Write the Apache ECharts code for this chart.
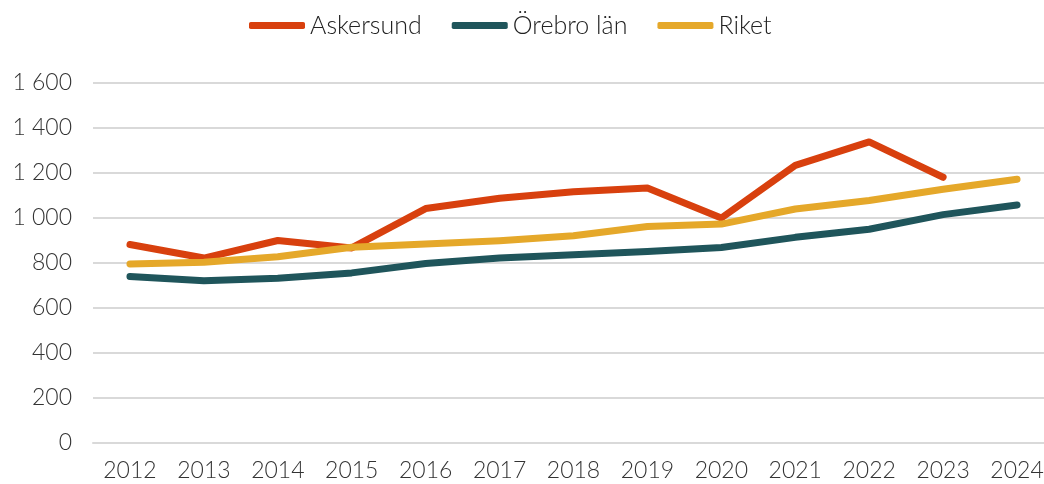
<!DOCTYPE html>
<html>
<head>
<meta charset="utf-8">
<script src="https://cdn.jsdelivr.net/npm/echarts@6/dist/echarts.min.js"></script>
<style>
	html, body { margin: 0; padding: 0; background: #fff; }
	#chart { width: 1044px; height: 484px; }
</style>
</head>
<body>
<div id="chart"></div>
<script>
const years = ['2012', '2013', '2014', '2015', '2016', '2017', '2018', '2019', '2020', '2021', '2022', '2023', '2024']
// Askersund has no 2024 value
const askersund = [882, 822, 900, 867, 1042, 1088, 1117, 1133, 1000, 1234, 1338, 1181, null]
const orebroLan = [740, 721, 732, 756, 798, 822, 837, 851, 869, 914, 950, 1015, 1058]
const riket = [796, 803, 828, 870, 884, 899, 921, 962, 973, 1040, 1078, 1128, 1172]

const COLORS = ['#D8400E', '#1F555B', '#E5A82A']
const FONT = 'Lato'

function fmt(v) {
	if (v < 1000) return String(v)
	return Math.floor(v / 1000) + ' ' + String(v % 1000).padStart(3, '0')
}

const chart = echarts.init(document.getElementById('chart'))

function lineSeries(name, data, color) {
	return {
		name,
		type: 'line',
		data,
		showSymbol: false,
		symbol: 'none',
		connectNulls: false,
		lineStyle: { color, width: 7, cap: 'round', join: 'round' },
		itemStyle: { color }
	}
}

chart.setOption({
	animation: false,
	color: COLORS,
	legend: {
		top: 8,
		left: 244,
		icon: 'roundRect',
		itemWidth: 56,
		itemHeight: 7,
		itemGap: 30,
		textStyle: { fontFamily: FONT, fontWeight: 300, fontSize: 25, color: '#222' }
	},
	grid: {
		left: 93,
		width: 961,
		top: 83,
		bottom: 41,
		outerBoundsMode: 'none'
	},
	xAxis: {
		type: 'category',
		data: years,
		boundaryGap: true,
		axisLine: { lineStyle: { color: '#d9d9d9', width: 2 } },
		axisTick: { show: false },
		axisLabel: { fontFamily: FONT, fontWeight: 300, fontSize: 23, color: '#333', margin: 16 }
	},
	yAxis: {
		type: 'value',
		min: 0,
		max: 1600,
		interval: 200,
		axisLine: { show: false },
		axisTick: { show: false },
		splitLine: { lineStyle: { color: '#d9d9d9', width: 2 } },
		axisLabel: {
			fontFamily: FONT,
			fontWeight: 300,
			fontSize: 23,
			color: '#333',
			margin: 21,
			formatter: fmt
		}
	},
	series: [
		lineSeries('Askersund', askersund, COLORS[0]),
		lineSeries('Örebro län', orebroLan, COLORS[1]),
		lineSeries('Riket', riket, COLORS[2])
	]
})
</script>
</body>
</html>
